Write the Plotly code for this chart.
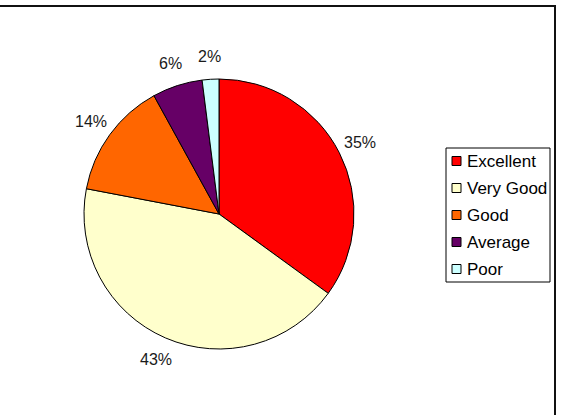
import math
import plotly.graph_objects as go

categories = ["Excellent", "Very Good", "Good", "Average", "Poor"]
values = [35, 43, 14, 6, 2]
colors = ["#FF0000", "#FFFFCC", "#FF6600", "#660066", "#CCFFFF"]

W, H = 566, 415
cx, cy, r = 219, 214, 135
FONT = "Liberation Sans, Arial, sans-serif"

fig = go.Figure(go.Pie(
    labels=categories,
    values=values,
    sort=False,
    direction="clockwise",
    rotation=0,
    marker=dict(colors=colors, line=dict(color="#000000", width=1)),
    textinfo="none",
    domain=dict(x=[(cx - r) / W, (cx + r) / W], y=[(H - cy - r) / H, (H - cy + r) / H]),
    showlegend=False,
    hoverinfo="label+percent",
))

annotations = []
shapes = []

# percentage labels placed outside each slice, derived from the data
total = sum(values)
cum = 0.0
lab_r = r + 23
for v in values:
    mid = (cum + v / 2) / total * 2 * math.pi
    cum += v
    px = cx + lab_r * math.sin(mid)
    py = cy - lab_r * math.cos(mid)
    annotations.append(dict(
        x=px / W, y=1 - py / H, xref="paper", yref="paper",
        text=f"{round(100 * v / total)}%", showarrow=False,
        xanchor="center", yanchor="middle",
        font=dict(family=FONT, size=16, color="#1a1a1a"),
    ))

# legend (box, swatches, labels)
lg_left, lg_top, lg_right, lg_bottom = 446, 148, 550, 282
row0, row_gap = 161, 27
shapes.append(dict(type="rect", xref="paper", yref="paper",
                   x0=lg_left / W, x1=lg_right / W, y0=1 - lg_bottom / H, y1=1 - lg_top / H,
                   line=dict(color="#000000", width=1), fillcolor="white"))
for i, (name, col) in enumerate(zip(categories, colors)):
    yc = row0 + row_gap * i
    shapes.append(dict(type="rect", xref="paper", yref="paper",
                       x0=452 / W, x1=461 / W, y0=1 - (yc + 4.5) / H, y1=1 - (yc - 4.5) / H,
                       line=dict(color="#000000", width=1), fillcolor=col))
    annotations.append(dict(
        x=465 / W, y=1 - yc / H, xref="paper", yref="paper",
        text=name, showarrow=False, xanchor="left", yanchor="middle",
        font=dict(family=FONT, size=17, color="#000000"),
    ))

# outer chart border (top and right visible)
shapes.append(dict(type="rect", xref="paper", yref="paper",
                   x0=-0.05, x1=555 / W, y0=-0.05, y1=1 - 6 / H,
                   line=dict(color="#111111", width=2), fillcolor="rgba(0,0,0,0)", layer="below"))

fig.update_layout(
    width=W, height=H,
    margin=dict(l=0, r=0, t=0, b=0),
    paper_bgcolor="white",
    plot_bgcolor="white",
    font=dict(family=FONT, size=15, color="#000000"),
    showlegend=False,
    annotations=annotations,
    shapes=shapes,
)

fig.write_html("out.html")
